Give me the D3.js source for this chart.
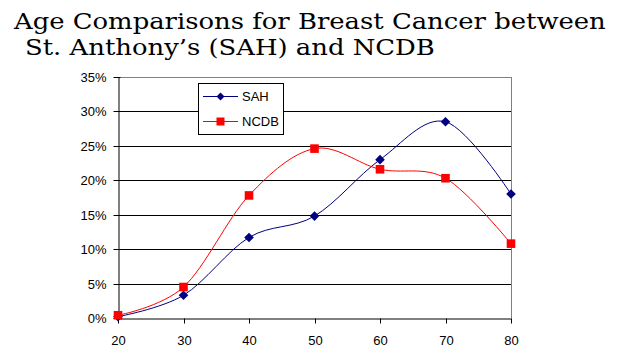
<!DOCTYPE html>
<html><head><meta charset="utf-8">
<script src="https://cdn.jsdelivr.net/npm/d3@7"></script>
<style>body{margin:0;background:#fff}svg{display:block}</style>
</head><body>
<svg id="c" width="619" height="356"></svg>
<script>
const ages = [20, 30, 40, 50, 60, 70, 80];
const sahValues = [0.2, 3.3, 11.7, 14.8, 23.0, 28.5, 18.0];
const ncdbValues = [0.4, 4.5, 17.8, 24.6, 21.6, 20.3, 10.8];
const yTicks = [0, 5, 10, 15, 20, 25, 30, 35];
const titleLines = ["Age Comparisons for Breast Cancer between", "St. Anthony’s (SAH) and NCDB"];
const seriesNames = ["SAH", "NCDB"];

const svg = d3.select("#c");
const L = 118, R = 511, T = 77, B = 318;
const x = d3.scaleLinear().domain([20, 80]).range([L, R]);
const y = d3.scaleLinear().domain([0, 35]).range([B, T]);

// title (wide serif: scale horizontally to match the reference width)
const tl = svg.append("g").attr("font-family", "DejaVu Serif, serif").attr("fill", "#000");
const t1 = tl.append("text").attr("x", 0).attr("y", 0).attr("font-size", 22.5).text(titleLines[0]);
const t2 = tl.append("text").attr("x", 0).attr("y", 0).attr("font-size", 22.5).text(titleLines[1]);
const w1 = t1.node().getComputedTextLength();
const sx = 592 / w1;
t1.attr("transform", `translate(14,29) scale(${sx},1)`);
t2.attr("transform", `translate(25,55) scale(${sx},1)`);

// gridlines
svg.append("g").selectAll("line").data(yTicks.filter(d => d > 0 && d < 35)).join("line")
  .attr("x1", L).attr("x2", R).attr("y1", d => Math.round(y(d)) + 0.5).attr("y2", d => Math.round(y(d)) + 0.5)
  .attr("stroke", "#000").attr("stroke-width", 1);
// plot border top/right gray
svg.append("line").attr("x1", L).attr("x2", R + 0.5).attr("y1", T + 0.5).attr("y2", T + 0.5).attr("stroke", "#808080");
svg.append("line").attr("x1", R + 0.5).attr("x2", R + 0.5).attr("y1", T).attr("y2", B).attr("stroke", "#808080");

// axes
const yAxis = d3.axisLeft(y).tickValues(yTicks).tickSizeInner(5).tickSizeOuter(0).tickFormat(d => d + "%");
const gy = svg.append("g").attr("transform", `translate(${L + 0.5},0)`).call(yAxis);
const xAxis = d3.axisBottom(x).tickValues(ages).tickSizeInner(5).tickSizeOuter(0).tickFormat(d3.format("d"));
const gx = svg.append("g").attr("transform", `translate(0,${B + 0.5})`).call(xAxis);
[gy, gx].forEach(g => {
  g.select(".domain").attr("stroke", "#000");
  g.selectAll(".tick line").attr("stroke", "#000");
  g.selectAll("text").attr("font-family", "Arial, Liberation Sans, sans-serif").attr("font-size", 13).attr("fill", "#000");
});
gy.selectAll(".tick").attr("transform", d => `translate(0,${Math.round(y(d)) + 0.5})`);
gx.selectAll(".tick").attr("transform", d => `translate(${Math.round(x(d)) + 0.5},0)`);
gy.selectAll(".tick line").attr("x1", 2);
gy.selectAll("text").attr("x", -12).attr("dy", "0.36em");
gx.selectAll("text").attr("y", 17);

// custom marker shapes
const diamond = r => `M0,${-r}L${r},0L0,${r}L${-r},0Z`;
const square = r => `M${-r},${-r}H${r}V${r}H${-r}Z`;

// lines
const line = d3.line().x((d, i) => x(ages[i])).y(d => y(d)).curve(d3.curveCatmullRom.alpha(0));
const series = [
  { name: seriesNames[0], values: sahValues, color: "#000080", shape: diamond, r: 4.8, lr: 4 },
  { name: seriesNames[1], values: ncdbValues, color: "#ff0000", shape: square, r: 4.3, lr: 4 }
];
series.forEach(s => {
  svg.append("path").attr("d", line(s.values)).attr("fill", "none").attr("stroke", s.color).attr("stroke-width", 1);
});
series.forEach(s => {
  svg.append("g").selectAll("path").data(s.values).join("path")
    .attr("transform", (d, i) => `translate(${x(ages[i])},${y(d)})`)
    .attr("d", s.shape(s.r)).attr("fill", s.color);
});

// legend
const lg = svg.append("g");
lg.append("rect").attr("x", 198.5).attr("y", 83.5).attr("width", 85).attr("height", 51).attr("fill", "#fff").attr("stroke", "#000");
series.forEach((s, i) => {
  const yy = 96 + i * 25;
  lg.append("line").attr("x1", 203).attr("x2", 238).attr("y1", yy + 0.5).attr("y2", yy + 0.5).attr("stroke", s.color);
  lg.append("path").attr("transform", `translate(220.5,${yy + 0.5})`).attr("d", s.shape(s.lr)).attr("fill", s.color);
  lg.append("text").attr("x", 242).attr("y", yy + 5).attr("font-family", "Arial, Liberation Sans, sans-serif").attr("font-size", 13).text(s.name);
});
</script>
</body></html>
